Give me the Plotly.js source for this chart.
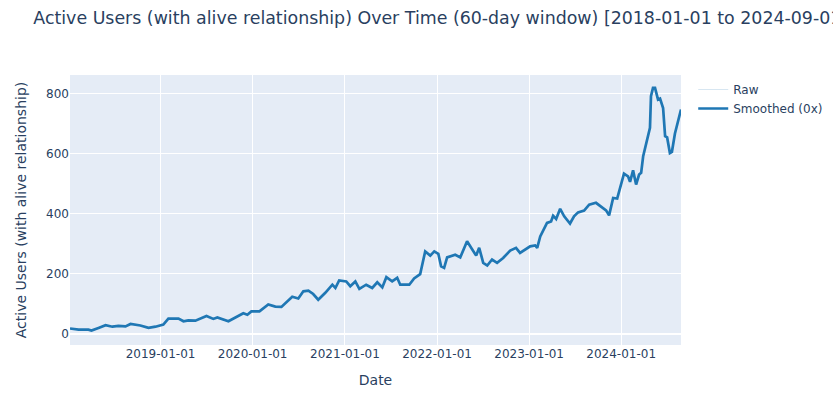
<!DOCTYPE html>
<html>
<head>
<meta charset="utf-8">
<script src="https://cdn.plot.ly/plotly-3.0.1.min.js"></script>
<style>html,body{margin:0;padding:0;background:#fff;}#chart{width:833px;height:394px;}</style>
</head>
<body>
<div id="chart"></div>
<script>
const dates = [
"2018-01-07","2018-02-10","2018-03-21","2018-04-02","2018-04-30","2018-05-28","2018-06-24","2018-07-18","2018-08-15","2018-09-04",
"2018-10-13","2018-11-14","2018-12-12","2019-01-12","2019-02-01","2019-03-13","2019-04-02","2019-04-21","2019-05-19","2019-06-08",
"2019-07-02","2019-07-29","2019-08-14","2019-09-27","2019-11-01","2019-11-25","2019-12-11","2019-12-27","2020-01-28","2020-03-03",
"2020-03-31","2020-04-24","2020-06-06","2020-06-30","2020-07-20","2020-08-09","2020-08-28","2020-09-17","2020-10-15","2020-11-12",
"2020-11-24","2020-12-09","2021-01-06","2021-01-22","2021-02-11","2021-02-27","2021-03-26","2021-04-19","2021-05-09","2021-05-29",
"2021-06-14","2021-07-07","2021-07-27","2021-08-08","2021-09-13","2021-10-02","2021-10-26","2021-11-15","2021-12-05","2021-12-21",
"2022-01-06","2022-01-17","2022-01-29","2022-02-10","2022-03-14","2022-04-03","2022-04-30","2022-05-20","2022-06-05","2022-06-17",
"2022-07-03","2022-07-19","2022-08-07","2022-08-27","2022-09-20","2022-10-18","2022-11-10","2022-11-26","2022-12-16","2023-01-05",
"2023-01-25","2023-02-02","2023-02-14","2023-02-25","2023-03-13","2023-03-29","2023-04-06","2023-04-18","2023-05-04","2023-05-20",
"2023-06-12","2023-06-28","2023-07-14","2023-08-07","2023-08-15","2023-08-27","2023-09-23","2023-10-13","2023-11-02","2023-11-14",
"2023-11-30","2023-12-16","2023-12-31","2024-01-12","2024-01-28","2024-02-05","2024-02-17","2024-02-29","2024-03-12","2024-03-20",
"2024-03-28","2024-04-16","2024-04-24","2024-04-28","2024-05-06","2024-05-14","2024-05-26","2024-06-03","2024-06-15","2024-06-23",
"2024-07-01","2024-07-12","2024-07-20","2024-08-01","2024-08-25"
];
const rawUsers = [
17,13,13,10,19,28,23,26,24,32,
27,19,23,30,50,50,41,44,43,50,
59,49,54,41,56,68,63,74,74,97,
90,89,123,117,141,143,132,113,136,163,
152,177,174,158,174,149,163,152,171,154,
188,174,186,163,163,184,198,274,260,274,
266,224,219,254,263,254,308,280,260,286,
236,227,247,236,252,277,286,269,280,291,
294,286,324,341,369,374,393,382,416,391,
367,391,404,410,419,430,436,424,411,394,
452,450,497,533,524,506,544,497,530,536,
591,652,686,791,819,819,780,783,752,658,
654,602,606,667,747
];
const smoothedUsers = rawUsers.slice();
const yTicks = [0,200,400,600,800];

const traces = [
  {x: dates, y: rawUsers, type: 'scatter', mode: 'lines', name: 'Raw',
   line: {color: 'rgba(31,119,180,0.18)', width: 1}},
  {x: dates, y: smoothedUsers, type: 'scatter', mode: 'lines', name: 'Smoothed (0x)',
   line: {color: '#1f77b4', width: 2.7}}
];

const layout = {
  width: 833, height: 394,
  paper_bgcolor: '#ffffff', plot_bgcolor: '#E5ECF6',
  font: {family: '"DejaVu Sans", verdana, arial, sans-serif', size: 12, color: '#2a3f5f'},
  title: {text: 'Active Users (with alive relationship) Over Time (60-day window) [2018-01-01 to 2024-09-01]',
          x: 0.04, xanchor: 'left', xref: 'container', y: 0.955, yref: 'container', yanchor: 'middle',
          font: {size: 17.4}},
  margin: {l: 70, r: 152, t: 75, b: 49, autoexpand: false},
  xaxis: {title: {text: 'Date', font: {size: 14}, standoff: 15}, type: 'date', tickformat: '%Y-%m-%d',
          dtick: 'M12', tick0: '2019-01-01', gridcolor: '#ffffff', gridwidth: 1,
          zeroline: false, showline: false, ticks: '', automargin: false},
  yaxis: {title: {text: 'Active Users (with alive relationship)', font: {size: 14}, standoff: 16},
          range: [-38, 862], tickvals: yTicks, gridcolor: '#ffffff', gridwidth: 1,
          zeroline: true, zerolinecolor: '#ffffff', zerolinewidth: 2, ticks: '', automargin: false},
  legend: {x: 1.02, y: 1, xanchor: 'left', yanchor: 'top', font: {size: 12}},
  showlegend: true
};

Plotly.newPlot('chart', traces, layout, {displayModeBar: false});
</script>
</body>
</html>
